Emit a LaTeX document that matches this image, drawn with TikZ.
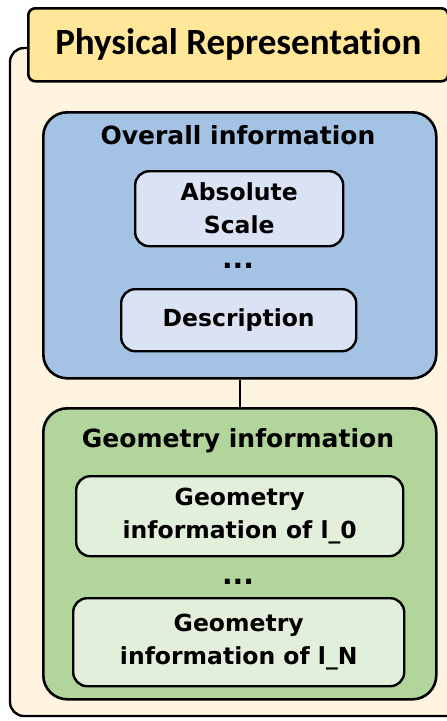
\documentclass[tikz,border=0pt]{standalone}
\usepackage{fontspec}
\setmainfont{DejaVu Sans}
\newfontfamily\titlefont[Ligatures=NoCommon]{Carlito}
\definecolor{frameFill}{HTML}{FFF4E0}
\definecolor{titleFill}{HTML}{FFE699}
\definecolor{blueFill}{HTML}{A4C2E4}
\definecolor{blueItem}{HTML}{DAE3F3}
\definecolor{greenFill}{HTML}{B1D59A}
\definecolor{greenItem}{HTML}{E2EFDA}
\tikzset{
  group/.style={draw=black, line width=2.6pt, rounded corners=24pt},
  item/.style={draw=black, line width=2.4pt, rounded corners=14pt, align=center,
    font=\fontsize{23.5}{33}\selectfont\bfseries},
  heading/.style={font=\fontsize{25}{30}\selectfont\bfseries},
  dots/.style={font=\fontsize{28}{28}\selectfont\bfseries},
}
\begin{document}
\begin{tikzpicture}[x=1pt,y=-1pt]
\useasboundingbox (0,0) rectangle (447,721);
% outer frame (runs past the right edge)
\path[fill=white] (0,0) rectangle (447,721);
\draw[fill=frameFill, line width=2.4pt, rounded corners=14pt] (10,48) rectangle (470,716);
% title tab
\node[draw=black, line width=2.6pt, rounded corners=7pt, fill=titleFill,
  minimum width=420pt, minimum height=73pt, anchor=north west,
  font=\titlefont\fontsize{37}{40}\selectfont\bfseries] (title) at (27,7) {Physical Representation};
% overall information group
\node[group, fill=blueFill, minimum width=393pt, minimum height=266pt, anchor=north west] (overall) at (42,111) {};
\node[heading] (overallT) at (238,135) {Overall information};
\node[item, fill=blueItem, minimum width=208pt, minimum height=75pt, anchor=north west] (scale) at (134,170) {Absolute\\Scale};
\node[dots] (odots) at (238,266) {...};
\node[item, fill=blueItem, minimum width=235pt, minimum height=62pt, anchor=north west] (desc) at (120,288) {Description};
% geometry information group
\node[group, fill=greenFill, minimum width=393pt, minimum height=291pt, anchor=north west] (geom) at (42,407) {};
\node[heading] (geomT) at (238,441) {Geometry information};
\node[item, fill=greenItem, minimum width=327pt, minimum height=80pt, anchor=north west] (g0) at (75,475) {Geometry\\information of l\_0};
\node[dots] (gdots) at (238,582) {...};
\node[item, fill=greenItem, minimum width=331pt, minimum height=88pt, anchor=north west] (gN) at (72,597) {Geometry\\information of l\_N};
% link between the groups
\draw[line width=2pt] (overall.south) -- (geom.north);
\end{tikzpicture}
\end{document}
